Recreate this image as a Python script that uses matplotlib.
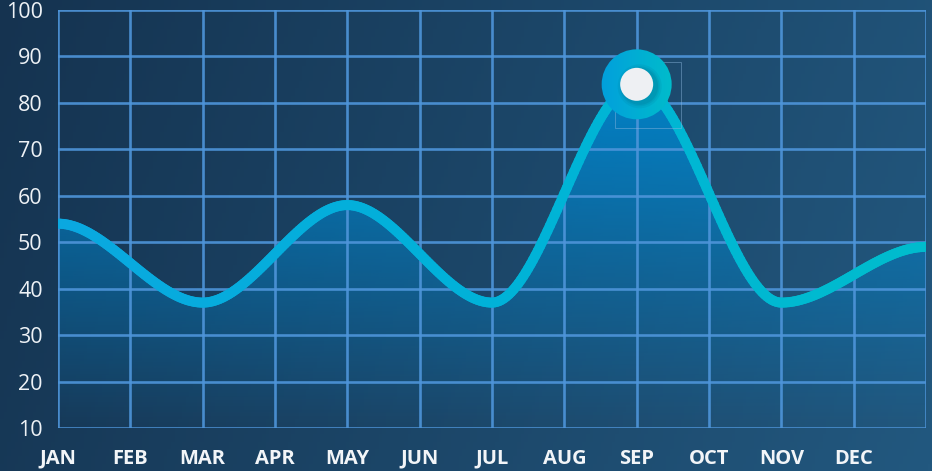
import numpy as np
import matplotlib.pyplot as plt
from matplotlib.collections import LineCollection
from matplotlib.colors import LinearSegmentedColormap, to_rgb
from matplotlib.patches import Ellipse, Rectangle

# data
months = ['JAN', 'FEB', 'MAR', 'APR', 'MAY', 'JUN', 'JUL', 'AUG',
          'SEP', 'OCT', 'NOV', 'DEC']
point_pos = [0, 2, 4, 6, 8, 10, 12]      # JAN, MAR, MAY, JUL, SEP, NOV, year end
values = [54, 37, 58, 37, 84, 37, 49]
y_ticks = [10, 20, 30, 40, 50, 60, 70, 80, 90, 100]
peak_idx = 4

plt.rcParams['font.family'] = ['Open Sans', 'DejaVu Sans']

W, H = 932, 471
L, R, B, T = 58, 926, 428, 10
n_cols = 12


def smooth(x, y, n=60):
    # cubic hermite with flat tangents at every point
    xs, ys = [], []
    for k in range(len(x) - 1):
        t = np.linspace(0, 1, n, endpoint=(k == len(x) - 2))
        s = 3 * t**2 - 2 * t**3
        xs.append(x[k] + t * (x[k + 1] - x[k]))
        ys.append(y[k] + s * (y[k + 1] - y[k]))
    return np.concatenate(xs), np.concatenate(ys)


fig = plt.figure(figsize=(W / 100, H / 100), dpi=100)

# background gradient
bg = fig.add_axes([0, 0, 1, 1])
bg.set_axis_off()
c0 = np.array(to_rgb('#153350'))
c1 = np.array(to_rgb('#22587f'))
gx = np.linspace(0, 1, 256)[None, :, None]
gy = np.linspace(0, 1, 64)[:, None, None]
w = 0.85 * gx + 0.15 * gy
grad = c0 * (1 - w) + c1 * w
bg.imshow(np.clip(grad, 0, 1), aspect='auto', extent=[0, 1, 0, 1])
bg.set_xlim(0, 1)
bg.set_ylim(0, 1)

ax = fig.add_axes([L / W, (H - B) / H, (R - L) / W, (B - T) / H])
ax.set_facecolor('none')
ax.set_xlim(0, n_cols)
ax.set_ylim(10, 100)

xs, ys = smooth(point_pos, values)

# area fill with vertical gradient, fading out at the bottom
fc = np.array(to_rgb('#0085cc'))
alpha = np.clip(np.linspace(0, 90 / 78, 256), 0, 1)[:, None]
img = np.zeros((256, 2, 4))
img[..., :3] = fc
img[..., 3] = alpha
fill = ax.fill_between(xs, ys, 10, facecolor='none', edgecolor='none')
im = ax.imshow(img, aspect='auto', extent=[0, n_cols, 10, 100], origin='lower', zorder=1)
im.set_clip_path(fill.get_paths()[0], transform=ax.transData)

# grid
gcol = '#4e95da'
for xi in range(n_cols + 1):
    ax.axvline(xi, color=gcol, lw=1.9, alpha=0.9, zorder=2)
for yi in y_ticks:
    ax.axhline(yi, color=gcol, lw=1.9, alpha=0.9, zorder=2)
for sp in ax.spines.values():
    sp.set_visible(False)

# line with horizontal colour gradient
pts = np.column_stack([xs, ys]).reshape(-1, 1, 2)
segs = np.concatenate([pts[:-1], pts[1:]], axis=1)
lcmap = LinearSegmentedColormap.from_list('ln', ['#0aa8e0', '#00b2d8', '#00bccd'])
lc = LineCollection(segs, cmap=lcmap, linewidths=7.2, capstyle='round', zorder=3)
lc.set_array(xs[:-1] / xs.max())
ax.add_collection(lc)

# peak marker
px, py = point_pos[peak_idx], values[peak_idx]
ux = (R - L) / n_cols      # px per x unit
uy = (B - T) / 90.0        # px per y unit
box = Rectangle((px + (11 - 33) / ux, py - (11 + 33) / uy), 66 / ux, 66 / uy,
                facecolor='none', edgecolor='#8fb8e0', lw=0.7, alpha=0.45, zorder=4)
ax.add_patch(box)
outer = Ellipse((px, py), 70 / ux, 70 / uy, facecolor='none', edgecolor='none', zorder=5)
ax.add_patch(outer)
ocmap = np.zeros((2, 64, 3))
ocmap[:] = np.linspace(to_rgb('#02a0dc'), to_rgb('#00bccb'), 64)[None, :, :]
oim = ax.imshow(ocmap, aspect='auto', extent=[px - 36 / ux, px + 36 / ux, py - 36 / uy, py + 36 / uy],
                zorder=5)
oim.set_clip_path(outer)
for k, a in zip([22, 20, 18.5], [0.12, 0.15, 0.2]):
    ax.add_patch(Ellipse((px + 3 / ux, py - 2 / uy), 2 * k / ux, 2 * k / uy,
                         facecolor='#00708f', edgecolor='none', alpha=a, zorder=6))
ax.add_patch(Ellipse((px, py), 33 / ux, 33 / uy, facecolor='#eef0f3', edgecolor='none', zorder=7))

# ticks
ax.set_xticks(range(len(months)))
ax.set_xticklabels(months, fontsize=14.5, fontweight='bold', color='#f2f5f8')
ax.set_yticks(y_ticks)
ax.set_yticklabels([str(v) for v in y_ticks], fontsize=15.5, color='#eef2f6')
ax.tick_params(axis='x', length=0, pad=15)
ax.tick_params(axis='y', length=0, pad=11)

fig.savefig('out.png', dpi=100)
